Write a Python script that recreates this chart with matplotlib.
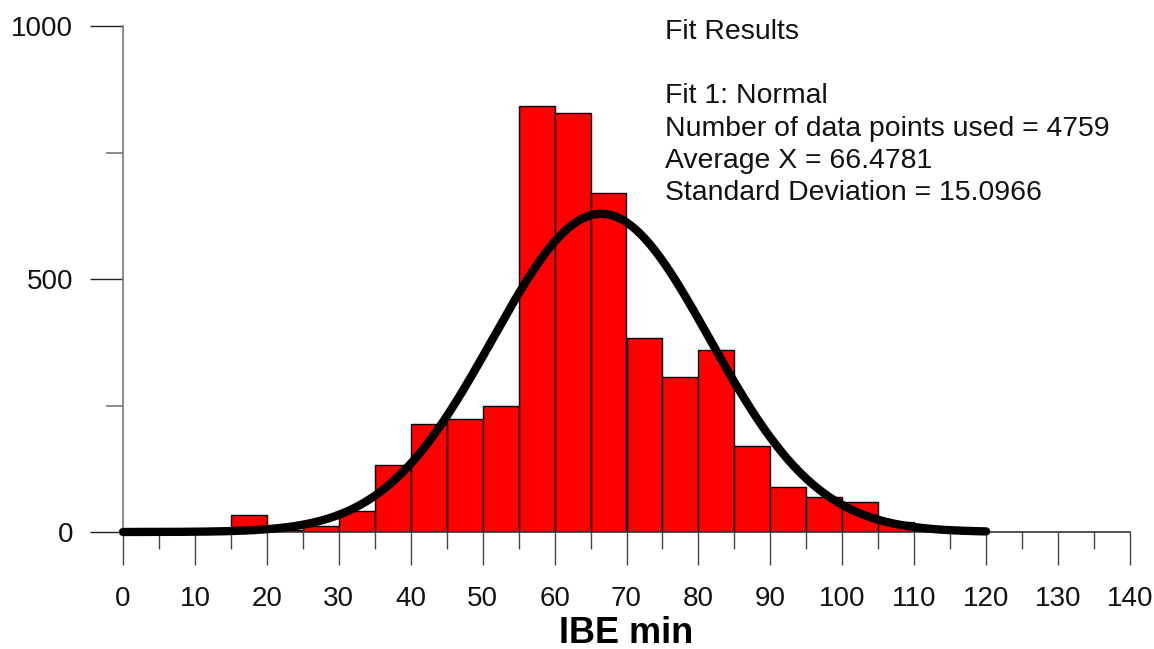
import numpy as np
import matplotlib
matplotlib.use("Agg")
import matplotlib.pyplot as plt
from matplotlib.ticker import MultipleLocator

plt.rcParams['font.family'] = ['Liberation Sans', 'DejaVu Sans']

# histogram bins (left edge, width 5) and counts
bin_left = [15, 20, 25, 30, 35, 40, 45, 50, 55, 60, 65, 70, 75, 80, 85, 90, 95, 100, 105, 110]
counts = [33, 4, 12, 42, 132, 214, 224, 249, 842, 829, 670, 383, 307, 360, 170, 88, 70, 59, 20, 3]
bin_width = 5

# fit results shown on the chart
n_points = 4759
mean_x = 66.4781
std_x = 15.0966
fit_range = (0, 120)

fig = plt.figure(figsize=(11.54, 6.49), dpi=100)
ax = fig.add_axes([123 / 1154, (649 - 532) / 649, (1130 - 123) / 1154, (532 - 26) / 649])

ax.bar(bin_left, counts, width=bin_width, align='edge', color='#ff0000',
       edgecolor='black', linewidth=1.0, zorder=2)

# normal curve scaled to counts per bin
xs = np.linspace(fit_range[0], fit_range[1], 400)
ys = n_points * bin_width / (std_x * np.sqrt(2 * np.pi)) * np.exp(-0.5 * ((xs - mean_x) / std_x) ** 2)
ax.plot(xs, ys, color='black', linewidth=6, solid_capstyle='round', zorder=3, clip_on=False)

ax.set_xlim(0, 140)
ax.set_ylim(0, 1000)

for s in ['top', 'right']:
    ax.spines[s].set_visible(False)
ax.spines['left'].set_color('#777777')
ax.spines['left'].set_linewidth(1.2)
ax.spines['bottom'].set_color('#333333')
ax.spines['bottom'].set_linewidth(1.2)

ax.xaxis.set_major_locator(MultipleLocator(10))
ax.xaxis.set_minor_locator(MultipleLocator(5))
ax.yaxis.set_major_locator(MultipleLocator(500))
ax.yaxis.set_minor_locator(MultipleLocator(250))

ax.tick_params(axis='x', which='major', direction='out', length=24, width=1.0,
               color='#444444', labelsize=20, pad=15, labelcolor='#111111')
ax.tick_params(axis='x', which='minor', direction='out', length=12, width=1.0, color='#444444')
ax.tick_params(axis='y', which='major', direction='out', length=24, width=1.0,
               color='#222222', labelsize=20, pad=12, labelcolor='#111111')
ax.tick_params(axis='y', which='minor', direction='out', length=12, width=1.2, color='#777777')

ax.set_xlabel('IBE min', fontsize=26, fontweight='bold', labelpad=3)

fit_text = ("Fit Results\n\nFit 1: Normal\n"
            f"Number of data points used = {n_points}\n"
            f"Average X = {mean_x}\n"
            f"Standard Deviation = {std_x}")
fig.text(665 / 1154, 1 - 19 / 649, fit_text, fontsize=20.4, va='top', ha='left',
         linespacing=1.31, color='#111111')

fig.savefig('out.png', dpi=100)
